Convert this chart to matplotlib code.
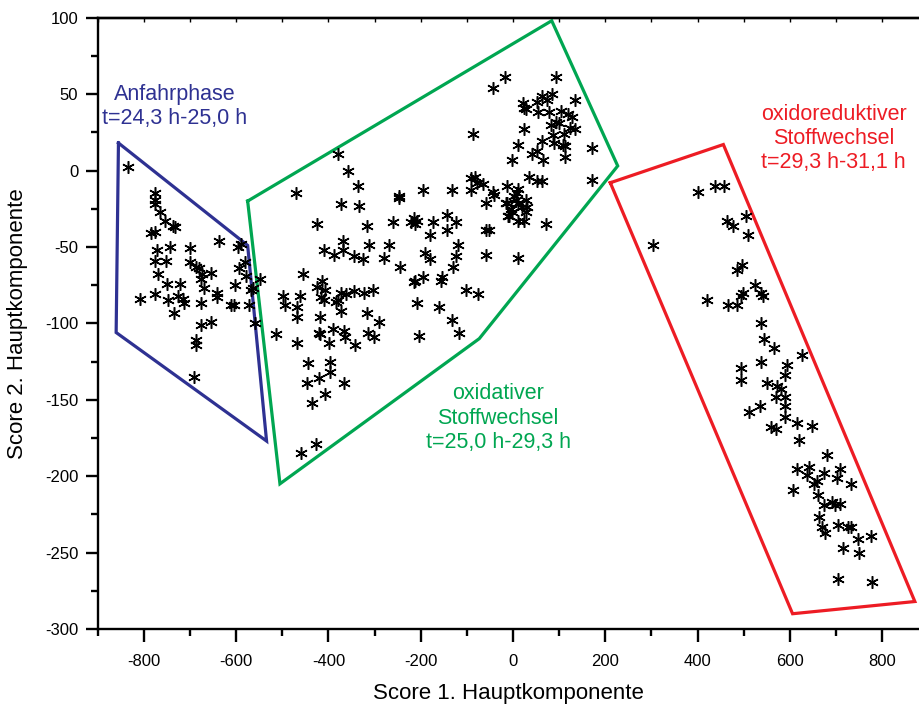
"""PCA score plot with three process phases marked by polygons.
"""
import numpy as np
import matplotlib
matplotlib.use('Agg')
import matplotlib.pyplot as plt

plt.rcParams['font.family'] = ['Liberation Sans', 'DejaVu Sans']
plt.rcParams['axes.unicode_minus'] = False

# scores (score 1, score 2)
anfahr_pts = [(-835, 2), (-775, -15), (-775, -19), (-775, -22), (-765, -27), (-754, -33), (-737, -36),
              (-732, -37), (-785, -41), (-776, -40), (-772, -52), (-743, -50), (-776, -59), (-751, -59),
              (-770, -68), (-749, -74), (-722, -74), (-776, -81), (-808, -84), (-747, -85), (-725, -82),
              (-716, -84), (-714, -87), (-734, -93), (-700, -51), (-700, -60), (-688, -63), (-681, -64),
              (-674, -68), (-676, -71), (-655, -67), (-669, -77), (-677, -87), (-642, -80), (-642, -83),
              (-655, -99), (-677, -101), (-637, -46), (-611, -88), (-604, -88), (-602, -75), (-596, -50),
              (-590, -48), (-593, -64), (-581, -60), (-579, -69), (-572, -88), (-567, -78), (-558, -100),
              (-686, -111), (-686, -114), (-692, -135)]

oxidativ_pts = [(-380, 11), (-357, 0), (-336, -10), (-471, -15), (-372, -22), (-333, -23), (-248, -17),
                (-246, -18), (-195, -13), (-133, -13), (-425, -35), (-317, -36), (-260, -34), (-215, -31),
                (-207, -33), (-212, -35), (-221, -34), (-174, -34), (-143, -29), (-124, -34), (-180, -42),
                (-143, -39), (-409, -52), (-388, -55), (-369, -52), (-368, -46), (-344, -56), (-324, -58),
                (-312, -49), (-279, -57), (-268, -49), (-245, -63), (-213, -72), (-194, -70), (-191, -54),
                (-180, -58), (-154, -70), (-120, -49), (-124, -56), (-131, -63), (-456, -68), (-424, -76),
                (-413, -72), (-408, -78), (-416, -83), (-409, -85), (-499, -82), (-461, -82), (-494, -88),
                (-469, -89), (-468, -96), (-384, -86), (-379, -85), (-373, -80), (-362, -81), (-344, -79),
                (-323, -80), (-373, -92), (-303, -78), (-317, -93), (-291, -99), (-209, -87), (-161, -89),
                (-133, -98), (-117, -106), (-418, -107), (-389, -104), (-367, -105), (-364, -109),
                (-315, -106), (-301, -109), (-342, -114), (-398, -113), (-467, -113), (-514, -107),
                (-203, -108), (-548, -71), (-564, -77), (-419, -96), (-420, -106), (-445, -126),
                (-396, -125), (-396, -132), (-420, -136), (-447, -139), (-366, -139), (-408, -146),
                (-436, -152), (-460, -185), (-427, -179), (-102, -78), (-76, -81), (-214, -73), (-156, -72),
                (-91, -5), (-83, -4), (-77, -8), (-91, -13), (-66, -9), (-44, -14), (-41, -16), (-59, -21),
                (-12, -10), (2, -17), (6, -19), (10, -21), (-13, -21), (-5, -25), (-1, -27), (-8, -30),
                (10, -33), (23, -33), (-59, -39), (-52, -39), (-59, -55), (10, -57), (71, -35), (28, -19),
                (31, -24), (20, -24), (28, -27), (11, -12), (8, -15), (-14, -21), (-10, -30), (34, -4),
                (53, -7), (64, -7), (171, -6), (-18, 61), (94, 61), (-44, 54), (22, 44), (24, 41), (28, 40),
                (52, 45), (62, 49), (73, 46), (84, 50), (134, 46), (54, 38), (78, 38), (105, 39), (119, 37),
                (127, 35), (82, 30), (94, 32), (100, 31), (111, 24), (123, 28), (135, 27), (23, 27), (86, 23),
                (89, 18), (10, 17), (62, 19), (109, 17), (172, 15), (-86, 24), (112, 16), (113, 9), (52, 13),
                (42, 11), (65, 7), (-1, 7)]

oxidored_pts = [(401, -14), (438, -10), (457, -10), (304, -49), (463, -33), (477, -36), (506, -30),
                (510, -42), (496, -62), (486, -65), (525, -75), (538, -80), (541, -82), (499, -80), (494, -82),
                (420, -85), (467, -88), (485, -88), (537, -100), (543, -110), (566, -116), (627, -121),
                (538, -125), (494, -129), (494, -137), (593, -127), (589, -134), (551, -139), (573, -141),
                (580, -143), (571, -148), (590, -148), (590, -154), (535, -154), (512, -158), (590, -161),
                (559, -168), (571, -169), (616, -165), (649, -167), (621, -176), (680, -186), (615, -195),
                (642, -194), (637, -199), (660, -203), (652, -205), (674, -198), (702, -201), (709, -195),
                (732, -205), (606, -209), (662, -212), (674, -219), (692, -217), (699, -219), (709, -218),
                (663, -227), (669, -233), (676, -237), (705, -232), (727, -233), (732, -233), (748, -241),
                (775, -239), (716, -247), (751, -250), (704, -267), (779, -269)]

# hand drawn boundaries of the phases
anfahr_poly = [(-855, 18), (-575, -49), (-534, -177), (-860, -106)]
oxidativ_poly = [(-575, -20), (84, 98), (227, 3), (-73, -110), (-505, -205)]
oxidored_poly = [(211, -8), (456, 17), (871, -282), (606, -290)]

labels = ['Anfahrphase\nt=24,3 h-25,0 h',
          'oxidativer\nStoffwechsel\nt=25,0 h-29,3 h',
          'oxidoreduktiver\nStoffwechsel\nt=29,3 h-31,1 h']
label_pos = [(-734, 42), (-32, -162), (695, 21)]
colors = ['#2E3192', '#00A651', '#ED1C24']

fig = plt.figure(figsize=(9.19, 7.04), dpi=100)
ax = fig.add_axes([0.1063, 0.1065, 0.8937, 0.8684])

# polygons first, points on top
for poly, c in zip([anfahr_poly, oxidativ_poly, oxidored_poly], colors):
    p = np.array(poly + [poly[0]])
    ax.plot(p[:, 0], p[:, 1], color=c, linewidth=2.3, solid_joinstyle='miter', zorder=2)

for pts in [anfahr_pts, oxidativ_pts, oxidored_pts]:
    a = np.array(pts)
    ax.plot(a[:, 0], a[:, 1], linestyle='none', marker=(6, 2, 0), markersize=9,
            markeredgewidth=1.1, color='black', zorder=3)

for txt, (x, y), c in zip(labels, label_pos, colors):
    ax.text(x, y, txt, color=c, fontsize=15.5, ha='center', va='center', linespacing=1.2)

ax.set_xlim(-898, 880)
ax.set_ylim(-300, 100)
ax.set_xticks(np.arange(-800, 801, 200))
ax.set_xticks(np.arange(-900, 880, 100), minor=True)
ax.set_yticks(np.arange(-300, 101, 50))
ax.set_yticks(np.arange(-300, 101, 25), minor=True)

ax.spines['right'].set_visible(False)
for side in ['left', 'bottom', 'top']:
    ax.spines[side].set_linewidth(1.7)

ax.tick_params(which='major', direction='out', length=9, width=1.7, labelsize=12, pad=5)
ax.tick_params(axis='x', which='major', pad=9)
ax.tick_params(which='minor', direction='out', length=5, width=1.7)

sec = ax.secondary_xaxis('top')
sec.set_xticks(np.arange(-900, 880, 100))
sec.tick_params(direction='in', length=3, width=1, labeltop=False)
sec.spines['top'].set_linewidth(1.7)

ax.set_xlabel('Score 1. Hauptkomponente', fontsize=16, labelpad=10)
ax.set_ylabel('Score 2. Hauptkomponente', fontsize=16, labelpad=12)

plt.savefig('out.png', dpi=100)
